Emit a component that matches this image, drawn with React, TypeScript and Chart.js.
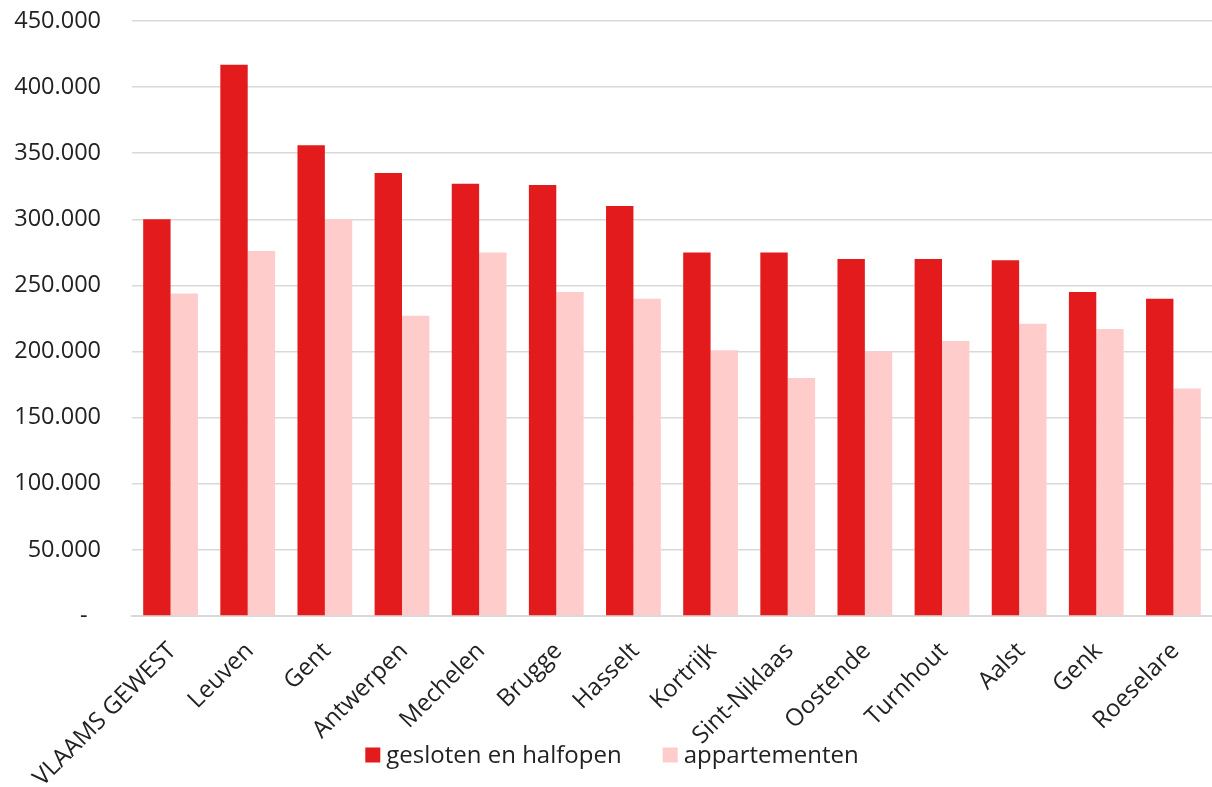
import React, { useEffect, useRef } from "react";
import { Chart, registerables } from "chart.js";

Chart.register(...registerables);

const categories = [
  "VLAAMS GEWEST", "Leuven", "Gent", "Antwerpen", "Mechelen", "Brugge", "Hasselt",
  "Kortrijk", "Sint-Niklaas", "Oostende", "Turnhout", "Aalst", "Genk", "Roeselare",
];
const geslotenValues = [300000, 417000, 356000, 335000, 327000, 326000, 310000, 275000, 275000, 270000, 270000, 269000, 245000, 240000];
const appartementenValues = [244000, 276000, 300000, 227000, 275000, 245000, 240000, 201000, 180000, 200000, 208000, 221000, 217000, 172000];
const seriesNames = ["gesloten en halfopen", "appartementen"];
const seriesColors = ["#E31B1C", "#FFCCCC"];

const FONT = "'Open Sans', 'Noto Sans', sans-serif";
const TEXT = "#222222";

const formatTick = (v: number) => {
  if (v === 0) return "-\u2007";
  return String(Math.round(v)).replace(/\B(?=(\d{3})+(?!\d))/g, ".");
};

const legendPlugin = {
  id: "customLegend",
  afterDraw(chart: any) {
    const ctx = chart.ctx;
    const ds = chart.data.datasets;
    const box = 15;
    const gapText = 6;
    const gapItem = 41;
    ctx.save();
    ctx.font = `24px ${FONT}`;
    const widths = ds.map((d: any) => ctx.measureText(d.label).width);
    let total = 0;
    widths.forEach((w: number, i: number) => {
      total += box + gapText + w + (i < widths.length - 1 ? gapItem : 0);
    });
    let x = chart.width / 2 + 6 - total / 2;
    const cy = 755;
    ds.forEach((d: any, i: number) => {
      ctx.fillStyle = d.backgroundColor;
      ctx.fillRect(x, cy - box / 2, box, box);
      ctx.fillStyle = TEXT;
      ctx.textAlign = "left";
      ctx.textBaseline = "middle";
      ctx.fillText(d.label, x + box + gapText, cy + 1);
      x += box + gapText + widths[i] + gapItem;
    });
    ctx.restore();
  },
};

const zeroPad = (axis: any) => {
  axis.paddingLeft = 0;
  axis.paddingRight = 0;
  axis.paddingTop = 0;
  axis.paddingBottom = 0;
};

export default function App() {
  const ref = useRef<HTMLCanvasElement | null>(null);
  useEffect(() => {
    document.body.style.margin = "0";
    if (!ref.current) return;
    const chart = new Chart(ref.current, {
      type: "bar",
      data: {
        labels: categories,
        datasets: [
          { label: seriesNames[0], data: geslotenValues, backgroundColor: seriesColors[0], borderWidth: 0 },
          { label: seriesNames[1], data: appartementenValues, backgroundColor: seriesColors[1], borderWidth: 0 },
        ],
      },
      options: {
        animation: false,
        responsive: true,
        maintainAspectRatio: false,
        layout: { padding: { top: 21, left: 0, right: 0, bottom: 0 } },
        datasets: { bar: { categoryPercentage: 0.71, barPercentage: 1.0 } },
        plugins: { legend: { display: false }, tooltip: { enabled: false } },
        scales: {
          x: {
            grid: { display: false, drawTicks: false },
            border: { display: true, color: "#d9d9d9", width: 2 },
            ticks: {
              font: { family: FONT, size: 24 },
              color: TEXT,
              minRotation: 45,
              maxRotation: 45,
              autoSkip: false,
              padding: 21,
              labelOffset: 2,
            },
            afterFit: (axis: any) => { axis.height = 171; zeroPad(axis); },
          },
          y: {
            min: 0,
            max: 450000,
            grid: { color: "#d9d9d9", lineWidth: 1.5, drawTicks: false },
            border: { display: false },
            ticks: {
              stepSize: 50000,
              font: { family: FONT, size: 23.5 },
              color: TEXT,
              padding: 31,
              callback: (v: any) => formatTick(Number(v)),
            },
            afterFit: (axis: any) => { axis.width = 132; zeroPad(axis); },
          },
        },
      },
      plugins: [legendPlugin],
    });
    return () => chart.destroy();
  }, []);
  return (
    <div style={{ width: 1212, height: 787, position: "relative" }}>
      <canvas ref={ref} />
    </div>
  );
}
